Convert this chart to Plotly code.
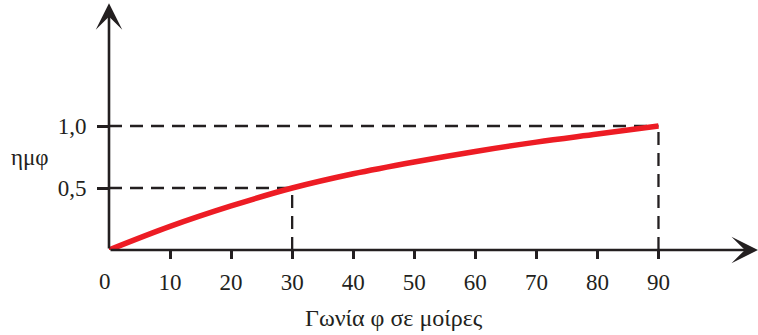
import plotly.graph_objects as go

# Angle in degrees and the sine value
angle_deg = [0, 10, 20, 30, 40, 50, 60, 70, 80, 90]
sine_val = [0.0, 0.19, 0.355, 0.50, 0.615, 0.71, 0.795, 0.87, 0.935, 1.0]

x_ticks = [10, 20, 30, 40, 50, 60, 70, 80, 90]
y_ticks = [0.5, 1.0]
y_tick_text = ["0,5", "1,0"]

# Highlighted points joined to the axes with dashed guides
marked_x = [30, 90]
marked_y = [0.5, 1.0]

INK = "#231f20"
RED = "#ed1c24"
FONT = "Liberation Serif"

W, H = 758, 335
L, B = 109, 85
PW, PH = W - L, H - B


def px_to_paper(px, py):
    """Convert a pixel position on the page to plot-area paper coordinates."""
    return (px - L) / PW, (PH - py) / PH


fig = go.Figure()

fig.add_trace(go.Scatter(
    x=angle_deg, y=sine_val, mode="lines",
    line=dict(color=RED, width=5.5, shape="spline", smoothing=1.0),
    hoverinfo="skip", showlegend=False,
))

shapes = []
for mx, my in zip(marked_x, marked_y):
    shapes.append(dict(type="line", xref="x", yref="y", x0=0, y0=my, x1=mx, y1=my,
                       line=dict(color=INK, width=2.3, dash="13px,8px"), layer="below"))
    shapes.append(dict(type="line", xref="x", yref="y", x0=mx, y0=0, x1=mx, y1=my,
                       line=dict(color=INK, width=2.3, dash="13px,8px"), layer="below"))

ylab_x, ylab_y = px_to_paper(30, 157)
xlab_x, xlab_y = px_to_paper(394, 318)

annotations = [
    # horizontal axis with arrow
    dict(x=106.3, y=0, ax=0, ay=0, xref="x", yref="y", axref="x", ayref="y",
         text="", showarrow=True, arrowhead=3, arrowsize=1.7, arrowwidth=2.6, arrowcolor=INK),
    # vertical axis with arrow
    dict(x=0, y=1.99, ax=0, ay=0, xref="x", yref="y", axref="x", ayref="y",
         text="", showarrow=True, arrowhead=3, arrowsize=1.7, arrowwidth=2.6, arrowcolor=INK),
    dict(x=0, y=0, xref="x", yref="y", text="0", showarrow=False, xanchor="center",
         yanchor="top", xshift=-4, yshift=-17, font=dict(family=FONT, size=23, color=INK)),
    dict(x=ylab_x, y=ylab_y, xref="paper", yref="paper", text="ημφ", showarrow=False,
         xanchor="center", yanchor="middle", font=dict(family=FONT, size=23, color=INK)),
    dict(x=xlab_x, y=xlab_y, xref="paper", yref="paper", text="Γωνία φ σε μοίρες",
         showarrow=False, xanchor="center", yanchor="middle",
         font=dict(family=FONT, size=24, color=INK)),
]

fig.update_layout(
    width=W, height=H,
    margin=dict(l=L, r=0, t=0, b=B),
    paper_bgcolor="white", plot_bgcolor="white",
    shapes=shapes, annotations=annotations,
    xaxis=dict(range=[0, 106.3], tickvals=x_ticks, ticks="outside", ticklen=8, tickwidth=2.5,
               tickcolor=INK, showgrid=False, zeroline=False, showline=False,
               tickfont=dict(family=FONT, size=23, color=INK), ticklabelstandoff=3,
               fixedrange=True),
    yaxis=dict(range=[0, PH / 124], tickvals=y_ticks, ticktext=y_tick_text, ticks="outside",
               ticklen=11, tickwidth=2.5, tickcolor=INK, showgrid=False, zeroline=False,
               showline=False, tickfont=dict(family=FONT, size=23, color=INK),
               ticklabelstandoff=6, fixedrange=True),
)

fig.write_html("out.html")
